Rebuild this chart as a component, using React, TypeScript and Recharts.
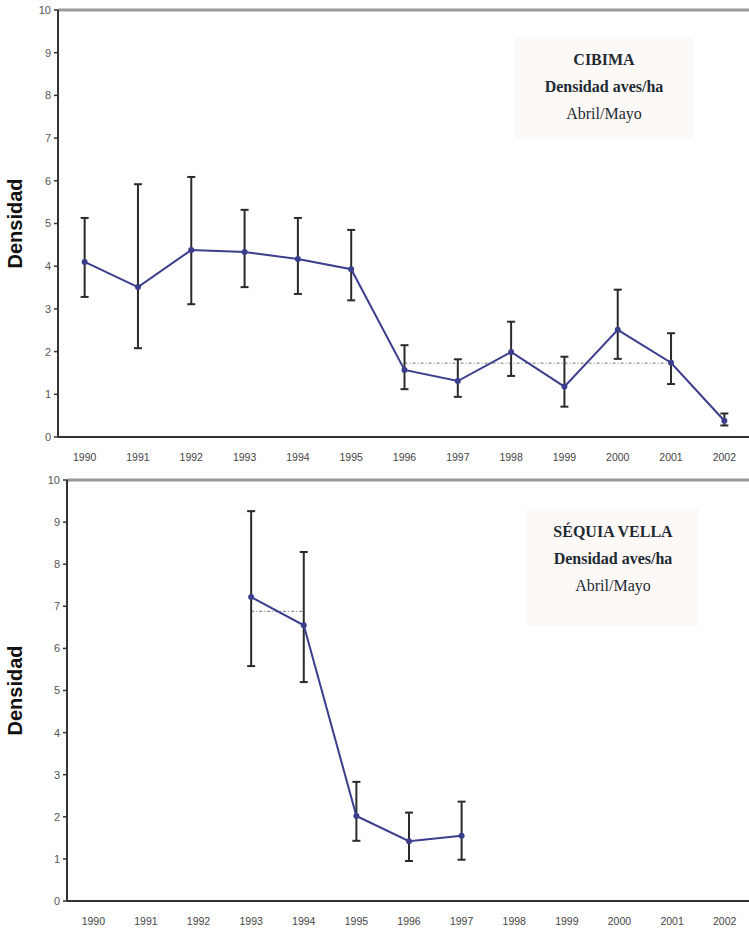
import { LineChart, Line, XAxis, YAxis, ErrorBar, ReferenceLine } from 'recharts'

const YEARS = [1990, 1991, 1992, 1993, 1994, 1995, 1996, 1997, 1998, 1999, 2000, 2001, 2002]
const YEAR_BOUNDS = [1989.5, 1990.5, 1991.5, 1992.5, 1993.5, 1994.5, 1995.5, 1996.5, 1997.5, 1998.5, 1999.5, 2000.5, 2001.5]
const Y_TICKS = [0, 1, 2, 3, 4, 5, 6, 7, 8, 9, 10]

// CIBIMA
const cibimaYears = [1990, 1991, 1992, 1993, 1994, 1995, 1996, 1997, 1998, 1999, 2000, 2001, 2002]
const cibimaValue = [4.1, 3.51, 4.38, 4.33, 4.17, 3.93, 1.57, 1.31, 1.99, 1.18, 2.51, 1.74, 0.38]
const cibimaHigh = [5.13, 5.92, 6.09, 5.32, 5.13, 4.85, 2.15, 1.82, 2.7, 1.88, 3.45, 2.43, 0.55]
const cibimaLow = [3.28, 2.08, 3.11, 3.51, 3.35, 3.2, 1.12, 0.94, 1.43, 0.71, 1.83, 1.24, 0.27]
const cibimaMean = { from: 1996, to: 2001, value: 1.73 }

// Séquia Vella
const sequiaYears = [1993, 1994, 1995, 1996, 1997]
const sequiaValue = [7.22, 6.55, 2.02, 1.42, 1.55]
const sequiaHigh = [9.26, 8.29, 2.83, 2.1, 2.36]
const sequiaLow = [5.58, 5.2, 1.43, 0.95, 0.98]
const sequiaMean = { from: 1993, to: 1994, value: 6.88 }

const LINE = '#3b3e8c'
const AXIS = '#333'

function buildRows(years: number[], values: number[], lows: number[], highs: number[]) {
  return years.map((year, i) => ({
    year,
    value: values[i],
    err: [+(values[i] - lows[i]).toFixed(2), +(highs[i] - values[i]).toFixed(2)],
  }))
}

interface PanelProps {
  rows: { year: number; value: number; err: number[] }[]
  mean: { from: number; to: number; value: number }
  width: number
  height: number
  plotHeight: number
  axisWidth: number
  title: string
  box: { left: number; top: number; width: number; height: number }
  top: number
}

function Panel({ rows, mean, width, height, plotHeight, axisWidth, title, box, top }: PanelProps) {
  return (
    <div style={{ position: 'absolute', left: 0, top, width: 749, height }}>
      <LineChart width={width} height={height} data={rows} margin={{ top: 10, right: 0, bottom: 0, left: 0 }}>
        {/* axis line with tick marks between the years */}
        <XAxis
          xAxisId="a"
          dataKey="year"
          type="number"
          domain={[1989.5, 2002.5]}
          allowDataOverflow
          ticks={YEAR_BOUNDS}
          interval={0}
          tick={false}
          tickSize={4}
          height={5}
          axisLine={{ stroke: AXIS, strokeWidth: 2 }}
          tickLine={{ stroke: AXIS, strokeWidth: 1.5 }}
        />
        {/* year labels centred in each slot */}
        <XAxis
          xAxisId="b"
          dataKey="year"
          type="number"
          domain={[1989.5, 2002.5]}
          allowDataOverflow
          ticks={YEARS}
          interval={0}
          tickSize={0}
          tickMargin={12}
          axisLine={false}
          tickLine={false}
          height={height - 10 - plotHeight - 5}
          tick={{ fontSize: 10.5, fill: '#444', fontFamily: 'Liberation Sans, Arial, sans-serif' }}
        />
        <YAxis
          type="number"
          domain={[0, 10]}
          ticks={Y_TICKS}
          interval={0}
          width={axisWidth}
          tickSize={4}
          tickMargin={3}
          axisLine={{ stroke: AXIS, strokeWidth: 2 }}
          tickLine={{ stroke: AXIS, strokeWidth: 1.5 }}
          tick={{ fontSize: 11, fill: '#555', fontFamily: 'Liberation Sans, Arial, sans-serif' }}
          label={{
            value: 'Densidad',
            angle: -90,
            position: 'insideLeft',
            offset: 15,
            style: {
              textAnchor: 'middle',
              fontSize: 20,
              fontWeight: 'bold',
              fill: '#111',
              fontFamily: '"Liberation Sans Narrow", "Arial Narrow", sans-serif',
            },
          }}
        />
        <ReferenceLine xAxisId="a" y={10} stroke="#9a9a9a" strokeWidth={3} />
        <ReferenceLine
          xAxisId="a"
          segment={[{ x: mean.from, y: mean.value }, { x: mean.to, y: mean.value }]}
          stroke="#777"
          strokeWidth={1}
          strokeDasharray="3 2 1 2"
        />
        <Line
          xAxisId="a"
          dataKey="value"
          stroke={LINE}
          strokeWidth={2}
          dot={{ r: 2, fill: LINE, stroke: LINE }}
          isAnimationActive={false}
        >
          <ErrorBar dataKey="err" direction="y" width={4} stroke="#2a2a2a" strokeWidth={2} isAnimationActive={false} />
        </Line>
      </LineChart>
      <div
        style={{
          position: 'absolute',
          left: box.left,
          top: box.top - top,
          width: box.width,
          height: box.height,
          background: '#fdf9f7',
          fontFamily: '"Liberation Serif", "Times New Roman", serif',
          color: '#1e2a33',
          textAlign: 'center',
          fontSize: 16,
        }}
      >
        <div style={{ fontWeight: 'bold', marginTop: 10, lineHeight: '27px' }}>{title}</div>
        <div style={{ fontWeight: 'bold', lineHeight: '27px' }}>Densidad aves/ha</div>
        <div style={{ lineHeight: '27px' }}>Abril/Mayo</div>
      </div>
    </div>
  )
}

export default function App() {
  const cibimaRows = buildRows(cibimaYears, cibimaValue, cibimaLow, cibimaHigh)
  const sequiaRows = buildRows(sequiaYears, sequiaValue, sequiaLow, sequiaHigh)
  return (
    <div style={{ position: 'absolute', left: 0, top: 0, width: 749, height: 929, overflow: 'hidden', background: '#fff' }}>
      <Panel
        rows={cibimaRows}
        mean={cibimaMean}
        width={751}
        height={470}
        plotHeight={427}
        axisWidth={58}
        title="CIBIMA"
        top={0}
        box={{ left: 515, top: 36, width: 178, height: 104 }}
      />
      <Panel
        rows={sequiaRows}
        mean={sequiaMean}
        width={751}
        height={459}
        plotHeight={421}
        axisWidth={67}
        title="SÉQUIA VELLA"
        top={470}
        box={{ left: 527, top: 508, width: 172, height: 118 }}
      />
    </div>
  )
}
